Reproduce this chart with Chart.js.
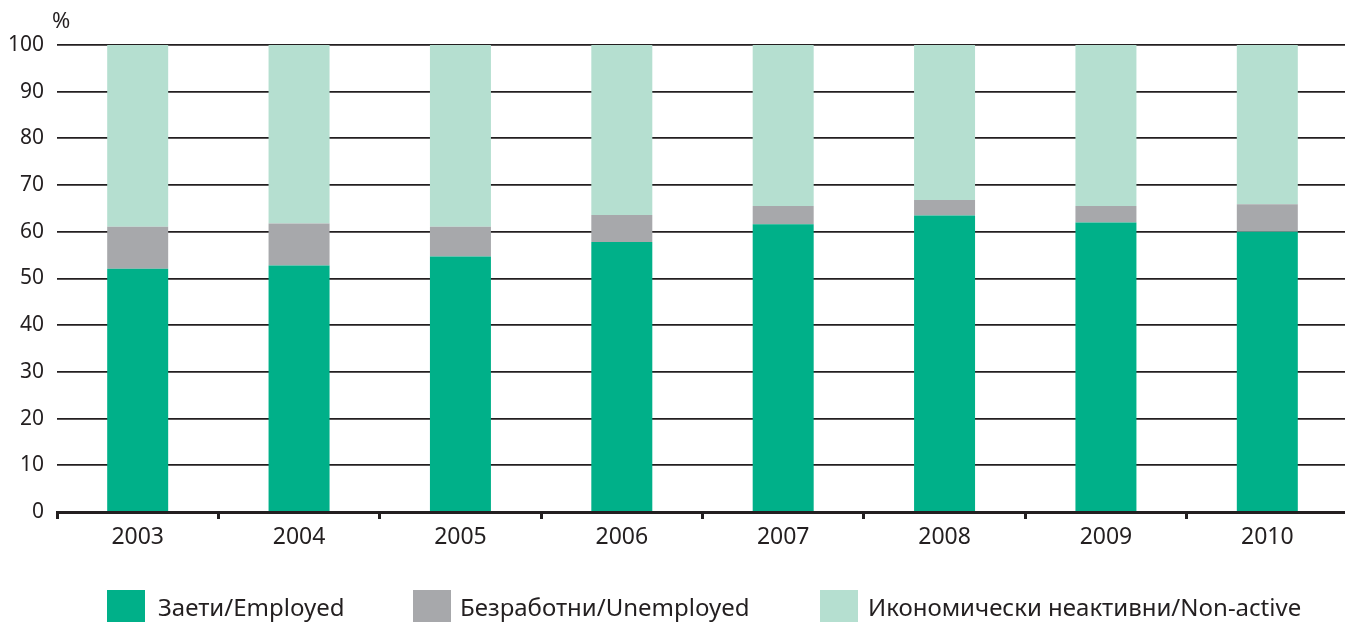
<!DOCTYPE html>
<html>
<head>
<meta charset="utf-8">
<script src="https://cdn.jsdelivr.net/npm/chart.js@4"></script>
<style>
html,body{margin:0;padding:0;background:#fff;}
#wrap{position:relative;width:1345px;height:622px;overflow:hidden;}
canvas{position:absolute;left:0;top:0;}
.lg{position:absolute;top:590px;height:32px;}
.lgt{position:absolute;top:590px;font-family:"Noto Sans",sans-serif;font-size:24px;color:#231f20;line-height:34px;white-space:nowrap;}
</style>
</head>
<body>
<div id="wrap">
<canvas id="c" width="1348" height="622"></canvas>
<div class="lg" style="left:107px;width:38px;background:#00b089"></div>
<div class="lgt" id="t1" style="left:158px">Заети/Employed</div>
<div class="lg" style="left:413px;width:38px;background:#a7a8ab"></div>
<div class="lgt" id="t2" style="left:460px">Безработни/Unemployed</div>
<div class="lg" style="left:820px;width:38px;background:#b5dfd0"></div>
<div class="lgt" id="t3" style="left:868px">Икономически неактивни/Non-active</div>
</div>
<script>
const categories = ["2003","2004","2005","2006","2007","2008","2009","2010"];
const employed   = [52.1, 52.8, 54.7, 57.8, 61.6, 63.5, 62.0, 60.0];
const unemployed = [9.0, 9.0, 6.4, 5.8, 3.9, 3.3, 3.5, 5.9];
const nonActive  = [38.9, 38.2, 38.9, 36.4, 34.5, 33.2, 34.5, 34.1];
const yTicks = [0,10,20,30,40,50,60,70,80,90,100];
const seriesNames = ["Заети/Employed","Безработни/Unemployed","Икономически неактивни/Non-active"];

const dark = "#231f20";
const pctPlugin = {
  id: "pct",
  afterDraw(chart) {
    const ctx = chart.ctx;
    ctx.save();
    ctx.fillStyle = dark;
    ctx.font = '22px "Noto Sans"';
    ctx.textAlign = "left";
    ctx.textBaseline = "alphabetic";
    ctx.fillText("%", chart.chartArea.left - 5, chart.chartArea.top - 17);
    ctx.restore();
  }
};

new Chart(document.getElementById("c"), {
  type: "bar",
  data: {
    labels: categories,
    datasets: [
      {label: seriesNames[0], data: employed, backgroundColor: "#00b089"},
      {label: seriesNames[1], data: unemployed, backgroundColor: "#a7a8ab"},
      {label: seriesNames[2], data: nonActive, backgroundColor: "#b5dfd0"}
    ]
  },
  options: {
    responsive: false,
    animation: false,
    layout: {padding: {top: 45, right: 0, left: 0, bottom: 0}},
    datasets: {bar: {categoryPercentage: 1, barPercentage: 0.378, borderWidth: 0}},
    plugins: {legend: {display: false}, tooltip: {enabled: false}},
    scales: {
      x: {
        stacked: true,
        grid: {display: true, drawOnChartArea: false, drawTicks: true, tickLength: 7, color: dark, lineWidth: 3, offset: true},
        border: {display: true, color: dark, width: 3},
        ticks: {color: dark, font: {family: "Noto Sans", size: 23}, padding: 5},
        afterFit(s) { s.height = 110; }
      },
      y: {
        stacked: true,
        min: 0, max: 100,
        afterBuildTicks(s) { s.ticks = yTicks.map(v => ({value: v})); },
        grid: {color: dark, lineWidth: 1.8, drawTicks: false},
        border: {display: false},
        ticks: {color: dark, font: {family: "Noto Sans", size: 21}, padding: 13},
        afterFit(s) { s.width = 57; }
      }
    }
  },
  plugins: [pctPlugin]
});
</script>
</body>
</html>
